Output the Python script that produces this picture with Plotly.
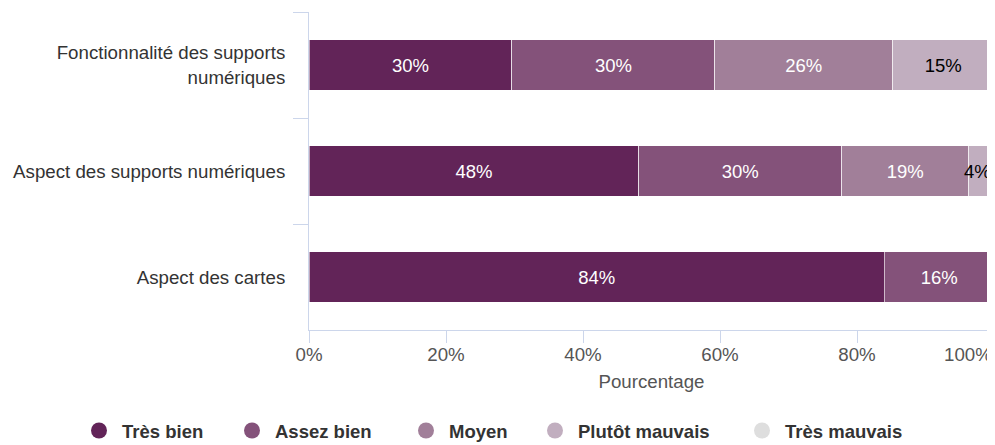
import plotly.graph_objects as go

categories = ["Fonctionnalité des supports<br>numériques",
              "Aspect des supports numériques",
              "Aspect des cartes"]
series_names = ["Très bien", "Assez bien", "Moyen", "Plutôt mauvais", "Très mauvais"]
tres_bien = [29.63, 48.15, 84.0]
assez_bien = [29.63, 29.63, 16.0]
moyen = [25.93, 18.52, 0]
plutot_mauvais = [14.81, 3.70, 0]
tres_mauvais = [0, 0, 0]
tick_values = [0, 20, 40, 60, 80, 100]
tick_labels = ["0%", "20%", "40%", "60%", "80%", "100%"]
x_title = "Pourcentage"

series_values = [tres_bien, assez_bien, moyen, plutot_mauvais, tres_mauvais]
colors = ["#622458", "#84527a", "#a17f99", "#c1aebf", "#dedede"]
text_colors = ["#ffffff", "#ffffff", "#ffffff", "#000000", "#000000"]

FONT = "Liberation Sans, Arial, sans-serif"
AXIS_COLOR = "#ccd6eb"
LABEL_SIZE = 18.5
NARROW = 6  # segments narrower than this get a right-aligned label

# page body has an 8px margin: size the figure so the plot lands where it should
W, H = 987, 437
ML, MR, MT, MB = 301, 1, 4, 115
plot_w = W - ML - MR
plot_h = H - MT - MB
# left edges (figure px) of the legend entries, one legend box per series
legend_left_px = [68, 221, 395, 524, 731]
legend_center_y_px = 423

fig = go.Figure()
cum = [0.0] * len(categories)
for k, (name, vals, col, tcol) in enumerate(zip(series_names, series_values, colors, text_colors)):
    texts = []
    for i, v in enumerate(vals):
        if v <= 0:
            texts.append("")
        elif v < NARROW:
            texts.append("")
            fig.add_annotation(
                x=cum[i] + v, y=categories[i], xref="x", yref="y",
                text=f"{v:.0f}%", showarrow=False, xanchor="right",
                xshift=-1, font=dict(size=LABEL_SIZE, color=tcol, family=FONT),
            )
        else:
            texts.append(f"{v:.0f}%")
        cum[i] += v
    fig.add_trace(go.Bar(
        y=categories, x=vals, orientation="h", name=name,
        marker=dict(color=col, line=dict(color="rgba(255,255,255,0.6)", width=1)),
        text=texts,
        textposition="inside", insidetextanchor="middle",
        textfont=dict(color=tcol, size=LABEL_SIZE, family=FONT),
        constraintext="none", textangle=0,
        showlegend=False, hoverinfo="skip",
    ))
    lg = "legend" if k == 0 else f"legend{k + 1}"
    fig.add_trace(go.Scatter(
        x=[None], y=[None], mode="markers", name=name,
        marker=dict(color=col, size=16, symbol="circle"),
        showlegend=True, hoverinfo="skip", legend=lg,
    ))
    fig.update_layout({lg: dict(
        orientation="h",
        xref="paper", x=(legend_left_px[k] - ML) / plot_w, xanchor="left",
        yref="paper", y=-(legend_center_y_px - (MT + plot_h)) / plot_h, yanchor="middle",
        font=dict(size=18.5, color="#333333", family=FONT, weight="bold"),
        itemwidth=36, bgcolor="rgba(0,0,0,0)",
    )})

fig.add_annotation(
    x=tick_values[-1], y=0, xref="x", yref="paper",
    text=tick_labels[-1], showarrow=False, xanchor="right", yanchor="top",
    yshift=-12, font=dict(size=18.7, color="#555555", family=FONT),
)

fig.update_layout(
    width=W, height=H,
    margin=dict(l=ML, r=MR, t=MT, b=MB, autoexpand=False),
    barmode="stack", bargap=0.52,
    plot_bgcolor="white", paper_bgcolor="white",
    font=dict(family=FONT, size=18.7, color="#333333"),
    uniformtext=dict(minsize=18, mode="show"),
    xaxis=dict(
        range=[0, 100], tickvals=tick_values,
        ticktext=tick_labels[:-1] + [""],
        showgrid=False, zeroline=False,
        showline=True, linecolor=AXIS_COLOR, linewidth=1,
        ticks="outside", ticklen=12, tickcolor=AXIS_COLOR,
        tickfont=dict(size=18.7, color="#555555"),
        ticklabelstandoff=-4,
        title=dict(text=x_title, font=dict(size=18.7, color="#555555"), standoff=10),
        fixedrange=True, automargin=False,
    ),
    yaxis=dict(
        type="category", categoryorder="array", categoryarray=categories,
        autorange="reversed",
        showgrid=False, zeroline=False,
        showline=True, linecolor=AXIS_COLOR, linewidth=1,
        ticks="outside", tickson="boundaries", ticklen=15, tickcolor=AXIS_COLOR,
        tickfont=dict(size=18.7, color="#333333"),
        ticklabelstandoff=19,
        fixedrange=True, automargin=False,
    ),
)

fig.write_html("out.html")
